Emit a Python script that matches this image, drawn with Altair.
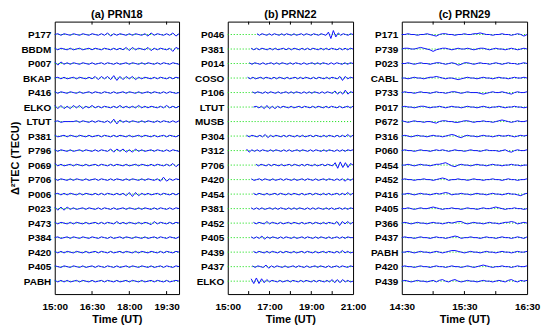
import altair as alt
import pandas as pd

FONT = "Liberation Sans"
H = 274
ROW_PX = H / 18.78
AMP_PX = 0.8

# ---------------- Panel (a) PRN18 ----------------
a_stations = ["P177", "BBDM", "P007", "BKAP", "P416", "ELKO", "LTUT", "P381", "P796",
              "P069", "P706", "P006", "P023", "P473", "P384", "P420", "P405", "PABH"]
a_values = [
    [0,1,-1,1,0,-1,1,0,-1,1,0,-1,1,0,-1,1,-1,2,-2,1,-1,1,0,-1,1,-1,1,0,-1,1,-2,2,-1,1,0,-1,1,-1,2,-2,1],
    [1,-1,1,0,-1,1,-1,0,1,-1,0,1,-1,1,0,-1,1,0,-1,1,-1,1,-1,2,-2,2,-1,1,0,-1,2,-2,1,-1,1,0,-1,1,-3,2,0],
    [2,-2,2,-1,1,-1,1,0,-1,1,0,-1,1,-1,0,1,-1,1,0,-1,1,-1,0,1,-1,1,0,-1,1,-1,1,0,-1,1,-1,1,0,-1,1,0,-1],
    [0,1,-1,1,-1,0,1,-1,1,0,-1,1,-1,2,-2,2,-1,2,-2,3,-3,2,-2,2,-1,2,-2,1,-1,1,0,-1,1,-1,1,0,-1,1,-1,1,0],
    [1,-1,1,0,-1,1,0,-1,1,-1,0,1,-1,1,0,-1,1,0,-1,1,-1,0,1,-1,1,0,-1,1,-1,0,1,-1,1,0,-1,1,-1,1,0,-1,0],
    [2,-2,2,-2,1,-2,2,-1,2,-2,1,-1,2,-1,1,-1,1,0,-1,1,-1,2,-1,1,-1,1,-1,2,-1,1,-1,1,0,-1,1,-1,2,-1,1,-1,1],
    [0,1,-1,0,0,0,0,1,-1,1,0,-1,1,-1,1,0,-1,1,-2,3,-3,2,-1,1,-1,1,0,-1,1,-1,1,0,-1,1,-1,1,0,-1,1,-1,1],
    [1,-1,0,1,-1,1,0,-1,1,0,-1,1,-1,0,1,-1,1,0,-1,1,-1,1,0,-1,1,-1,0,1,-1,1,0,-1,1,-1,0,1,-1,1,0,-1,1],
    [1,-1,1,0,-1,1,-1,0,1,-1,1,0,-1,1,-1,1,0,-1,2,-2,2,-1,2,-2,1,-2,2,-1,1,-1,0,1,-1,1,0,-1,1,-1,1,0,-1],
    [2,-1,1,-1,0,1,-1,1,0,-1,1,-1,0,1,-1,1,0,-1,1,-1,1,0,-1,1,-1,0,1,-1,1,0,-1,1,-1,1,0,-1,1,-1,2,-2,1],
    [1,-1,1,0,-1,1,-1,1,0,-1,1,-1,0,1,-1,1,0,-1,1,-1,1,0,-1,1,-1,1,0,-1,1,-1,1,0,-1,1,-2,3,-2,1,-1,1,0],
    [0,1,-1,1,-1,1,0,-1,1,-1,1,0,-1,1,-1,1,-1,1,0,-1,1,-1,1,-2,2,-3,2,-2,1,-1,1,-1,0,1,-1,1,0,-1,1,-1,1],
    [2,-2,2,-2,2,-1,1,-1,0,1,-1,1,0,-1,1,-1,1,0,-1,1,-1,0,1,-1,1,0,-1,1,-1,1,0,-1,1,-1,1,0,-1,1,-1,1,0],
    [1,-1,1,0,-1,1,-1,1,0,-1,1,-1,0,1,-1,1,-1,1,0,-1,2,-1,1,-1,1,0,-1,1,-1,1,0,-2,2,-1,1,0,-1,1,-1,1,0],
    [0,1,-1,0,1,-1,1,0,-1,1,0,-1,1,0,-1,1,0,-1,1,-1,0,1,-1,1,0,-1,1,0,-1,1,-1,0,1,-1,1,0,-1,1,0,-1,1],
    [1,-1,1,-1,1,0,-1,1,0,-1,1,-1,0,1,-1,1,0,-1,1,-1,0,1,-1,1,0,-1,1,-1,1,0,-1,1,0,-1,1,-1,1,0,-1,1,0],
    [1,0,-1,1,0,-1,1,0,-1,1,-1,0,1,-1,1,0,-1,1,0,-1,1,-1,0,1,-1,1,0,-1,1,0,-1,1,-1,0,1,-1,1,0,-1,1,0],
    [1,-1,1,-1,1,-1,0,1,-1,1,0,-1,1,-1,0,1,-1,1,0,-1,1,-1,0,1,-1,1,0,-1,1,-1,0,1,-1,1,0,-1,1,-1,0,1,0],
]
a_start = [15.0] * 18
a_time = [15.0, 20.0]
a_ticks = [16.5, 18.0, 19.5]
a_labels = [15.0, 16.5, 18.0, 19.5]

# ---------------- Panel (b) PRN22 ----------------
b_stations = ["P046", "P381", "P014", "COSO", "P106", "LTUT", "MUSB", "P304", "P312",
              "P706", "P420", "P454", "P381", "P452", "P405", "P439", "P437", "ELKO"]
b_start = [16.4, 16.12, 16.03, 15.95, 16.18, 16.23, 21.0, 15.9, 15.9,
           16.35, 16.13, 16.23, 16.12, 16.23, 16.12, 16.23, 16.18, 16.12]
b_values = [
    [1,-1,1,0,-1,1,-1,1,0,-1,1,-1,1,0,-1,1,-1,0,1,-1,1,0,-1,1,0,-1,1,0,-1,3,-5,5,-3,2,-1,1,0,-1,1,0],
    [1,-1,1,-1,1,0,-1,1,-1,1,-1,0,1,-1,1,-1,1,0,-1,1,-1,1,-1,1,0,-1,1,-1,1,-1,1,0,-1,1,-1,1,-1,1,0],
    [1,-1,1,0,-1,1,-1,0,1,-1,1,-1,1,0,-1,1,-1,1,0,-1,1,-1,0,1,-1,1,-1,1,0,-1,1,-1,1,0,-1,1,-1,1,0],
    [1,-1,1,-1,0,1,-1,1,0,-1,1,-1,1,0,-1,1,-1,0,1,-1,1,-1,1,0,-1,1,-1,1,0,-1,1,-1,1,0,-1,2,-3,2,-1,1,0],
    [1,-1,1,0,-1,1,-1,1,0,-1,1,-1,0,1,-1,1,-1,1,0,-1,1,-1,1,-1,1,0,-1,1,-1,1,0,-1,2,-2,1,-2,3,-2,1,0],
    [0,1,-1,1,-2,2,-2,1,-2,1,-1,1,0,-1,1,-1,0,1,-1,1,0,-1,1,-1,1,0,-1,1,-1,1,0,-1,1,-1,0,1,-1,1],
    [],
    [1,-1,1,0,-1,1,-1,2,-2,1,-1,1,0,-1,1,-1,1,0,-1,1,-1,1,-1,0,1,-1,1,0,-1,1,-1,1,0,-1,1,-1,1,-1,2,-1,1],
    [2,-2,1,-1,1,-1,1,0,-1,1,-1,1,0,-1,1,-1,1,-1,0,1,-1,1,0,-1,1,-1,1,0,-1,1,-1,1,0,-1,1,-1,1,-1,1,0,1],
    [1,-1,1,0,-1,1,-1,1,0,-1,1,-1,0,1,-1,1,0,-1,1,-1,1,0,-1,1,-1,0,1,-1,1,0,-1,3,-4,4,-3,3,-3,2,0],
    [1,-1,0,1,-1,1,0,-1,1,-1,0,1,-1,1,0,-1,1,-1,0,1,-1,1,0,-1,1,-1,0,1,-1,1,0,-1,1,-1,1,-2,1,-1,1],
    [1,-1,1,0,-1,1,-1,0,1,-1,1,0,-1,1,-1,1,0,-1,1,-1,0,1,-1,1,0,-1,1,-1,1,-1,0,1,-1,1,-1,2,-1,1],
    [1,-1,1,-1,1,-1,0,1,-1,1,-1,1,0,-1,1,-1,1,-1,1,0,-1,1,-1,1,-1,1,0,-1,1,-1,1,-1,0,1,-1,1,-1,1,0],
    [1,-1,1,0,-1,2,-1,1,0,-1,1,-1,0,1,-1,1,0,-1,1,-1,0,1,-1,1,0,-1,1,-1,1,0,-1,2,-3,2,-1,2,-1,1],
    [1,-1,1,-1,2,-2,1,-1,1,0,-1,1,-1,1,0,-1,1,-1,0,1,-1,1,0,-1,1,-1,1,0,-1,1,-1,0,1,-1,1,-1,1,0,0],
    [1,-1,1,0,-1,1,-1,1,0,-1,1,-1,1,0,-1,1,-1,0,1,-1,1,0,-1,1,-1,0,1,-1,1,0,-1,1,-1,2,-1,1,-1,0],
    [1,-1,1,0,-1,2,-2,1,-1,1,0,-1,1,-1,0,1,-1,1,0,-1,1,-1,0,1,-1,1,0,-1,1,-1,0,1,-1,1,0,-1,1,0],
    [3,-3,4,-3,3,-2,2,-1,1,0,-1,1,-1,0,1,-1,1,0,-1,1,-1,1,0,-1,1,-1,1,0,-1,1,-1,2,-2,2,-2,2,-1,1,-1,0],
]
b_time = [15.0, 21.0]
b_ticks = [16, 17, 18, 19, 20]
b_labels = [15, 17, 19, 21]

# ---------------- Panel (c) PRN29 ----------------
c_stations = ["P171", "P739", "P023", "CABL", "P733", "P017", "P672", "P316", "P060",
              "P454", "P452", "P416", "P405", "P366", "P437", "PABH", "P420", "P439"]
c_values = [
    [0,0,1,0,0,-1,0,0,1,0,-1,-2,0,1,1,0,0,-1,0,0,1,0,0,1,1,2,1,0,0,-1,0,0,1,0,0,-1,0,1,0,-2,0],
    [0,1,1,0,0,1,2,1,0,-1,-3,-1,0,1,1,0,-1,0,1,0,0,1,0,-1,0,1,1,0,-1,0,1,0,0,-1,0,1,0,-1,0,1,0],
    [0,0,1,0,-1,0,1,0,0,-1,0,1,1,0,-1,0,1,0,-2,-1,1,1,0,-1,0,1,0,0,-1,0,1,0,-1,0,1,0,0,-1,0,1,0],
    [0,0,-1,0,1,0,0,-1,0,1,1,2,1,0,-1,0,0,-1,-2,-1,0,1,0,0,-1,0,1,0,0,-1,0,1,0,0,-1,0,1,0,0,1,0],
    [0,1,0,0,-1,0,1,0,0,-1,0,1,0,0,-1,0,1,1,0,-1,0,1,0,0,0,-1,-2,-1,0,1,0,0,1,0,-1,-2,0,1,0,0,1],
    [0,1,0,0,-1,0,1,1,0,-1,0,0,1,0,-1,0,1,0,0,-1,0,1,0,0,-1,0,1,0,-1,0,0,1,0,-1,0,0,1,0,0,-1,0],
    [1,0,-1,0,1,0,0,-1,0,0,-1,-2,0,1,1,0,0,-1,-1,0,1,1,0,-1,0,0,1,0,0,-1,0,1,2,1,0,-1,0,1,0,0,1],
    [0,1,0,-1,0,1,0,0,-1,0,1,0,0,-1,0,1,2,1,-1,-2,0,1,0,0,-1,0,1,0,0,-1,0,1,0,0,1,0,-1,0,1,0,1],
    [0,1,0,0,-1,0,1,0,0,-1,0,1,0,1,0,-1,0,1,0,0,-1,0,1,0,0,-1,0,1,0,0,0,-1,0,1,-1,-2,0,1,0,0,1],
    [0,0,1,0,-1,0,1,0,0,-1,0,1,1,2,3,1,-1,-2,0,1,0,0,-1,0,1,0,0,-1,0,1,0,0,-1,0,0,1,0,0,-1,0,0],
    [0,1,0,0,-1,0,0,1,0,0,-1,0,1,2,1,-1,0,0,1,0,0,-1,0,1,0,0,-1,0,0,1,0,0,-1,0,1,0,0,-1,0,0,1],
    [0,0,1,0,-1,0,1,0,0,-1,0,1,0,1,2,1,-1,0,0,1,0,0,-1,0,1,0,0,-1,0,1,0,0,-1,0,1,0,0,-1,-2,0,1],
    [0,0,1,0,-1,0,1,0,0,1,2,1,0,-1,0,0,1,0,0,-1,0,1,0,0,-1,0,1,0,0,1,2,1,0,-1,0,0,1,0,0,-1,0],
    [0,1,0,-1,0,1,0,0,-1,0,1,0,0,-1,0,1,0,1,2,2,0,-1,0,1,0,0,-1,0,1,0,0,-1,0,1,1,2,1,-1,0,1,0],
    [0,1,0,0,-1,0,1,0,0,-1,0,1,0,0,-1,0,1,2,1,-1,0,0,1,0,0,-1,0,1,0,0,-1,0,1,0,0,-1,0,1,0,-1,1],
    [0,0,1,0,-1,0,1,0,0,-1,0,1,0,-1,0,1,2,2,1,0,-1,0,1,0,0,-1,0,1,0,0,-1,0,1,0,0,-1,0,1,0,0,1],
    [0,1,0,0,-1,0,1,0,0,-1,0,1,0,0,-1,0,1,0,0,-1,0,1,0,-1,0,1,2,1,0,-1,0,0,1,0,0,-1,0,1,0,0,1],
    [0,1,0,-1,0,1,0,0,-1,0,1,-1,1,2,0,-1,1,2,0,-1,0,1,0,0,-1,0,1,0,0,-1,0,1,0,-1,1,2,0,-1,1,0,1],
]
c_start = [14.5] * 18
c_time = [14.5, 16.5]
c_ticks = [15.0, 15.5, 16.0]
c_labels = [14.5, 15.5, 16.5]

LABEL_EXPR = "floor(datum.value) + ':' + (datum.value % 1 ? '30' : '00')"


def panel(title, stations, values, starts, domain, ticks, labels, ytitle, width):
    n = len(stations)
    t_end = domain[1]
    rows = []
    for i, vals in enumerate(values):
        base = n - 1 - i
        m = len(vals)
        for k, v in enumerate(vals):
            t = starts[i] + (t_end - starts[i]) * k / (m - 1)
            rows.append({"row": i, "t": t, "y": base + v * AMP_PX / ROW_PX})
    blue = pd.DataFrame(rows, columns=["row", "t", "y"])
    green = pd.DataFrame([{"row": i, "t": tt, "y": n - 1 - i}
                          for i in range(n) for tt in domain])
    tick_df = pd.DataFrame({"t": ticks})

    names = "[" + ",".join("'%s'" % s for s in stations) + "]"
    xs = alt.Scale(domain=domain, nice=False, zero=False)
    ys = alt.Scale(domain=[-0.89, n - 1 + 0.89], nice=False, zero=False)
    xaxis = alt.Axis(values=labels, labelExpr=LABEL_EXPR, ticks=False, domain=False,
                     grid=False, labelFont=FONT, labelFontSize=10, labelFontWeight="bold",
                     labelColor="black", labelPadding=8, labelFlush=False,
                     labelOverlap=False, titleFont=FONT, titleFontSize=11,
                     titleFontWeight="bold", titleColor="black", titlePadding=2)
    yaxis = alt.Axis(values=list(range(n)), labelExpr=names + "[%d - datum.value]" % (n - 1),
                     ticks=False, domain=False, grid=False, labelFont=FONT,
                     labelFontSize=10, labelFontWeight="bold", labelColor="black",
                     labelPadding=4, labelFlush=False, labelOverlap=False,
                     titleFont=FONT, titleFontSize=11, titleFontWeight="bold",
                     titleColor="black", titlePadding=0)
    xenc = alt.X("t:Q", scale=xs, axis=xaxis, title="Time (UT)")
    if ytitle:
        yenc = alt.Y("y:Q", scale=ys, axis=yaxis, title=ytitle)
    else:
        yenc = alt.Y("y:Q", scale=ys, axis=yaxis, title=None)

    g = alt.Chart(green).mark_line(color="#00dd00", strokeWidth=1, strokeDash=[1, 2]).encode(
        x=xenc, y=yenc, detail="row:N")
    b = alt.Chart(blue).mark_line(color="#1010ff", strokeWidth=1, strokeJoin="round").encode(
        x=xenc, y=yenc, detail="row:N")
    top = alt.Chart(tick_df).mark_rule(color="black", strokeWidth=1).encode(
        x=xenc, y=alt.value(0), y2=alt.value(3))
    bot = alt.Chart(tick_df).mark_rule(color="black", strokeWidth=1).encode(
        x=xenc, y=alt.value(H - 3), y2=alt.value(H))
    return alt.layer(g, b, top, bot).properties(
        width=width, height=H,
        title=alt.TitleParams(title, font=FONT, fontSize=11, fontWeight="bold",
                              color="black", offset=1))


pa = panel("(a) PRN18", a_stations, a_values, a_start, a_time, a_ticks, a_labels,
           "\u0394\u00b2TEC (TECU)", 125)
pb = panel("(b) PRN22", b_stations, b_values, b_start, b_time, b_ticks, b_labels, None, 126)
pc = panel("(c) PRN29", c_stations, c_values, c_start, c_time, c_ticks, c_labels, None, 126)

chart = alt.hconcat(pa, pb, pc, spacing=49, bounds="flush").configure_view(
    stroke="black", strokeWidth=1
).properties(
    autosize=alt.AutoSizeParams(type="none"),
    padding={"left": 47, "top": 12, "right": 490, "bottom": 311},
    background="white",
)

chart.save("out.html", embed_options={"renderer": "svg", "actions": False})
